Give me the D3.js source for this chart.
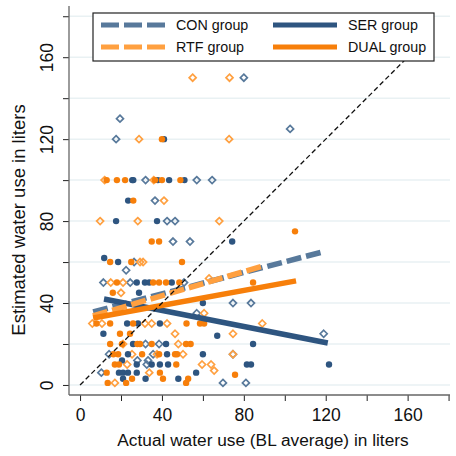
<!DOCTYPE html>
<html><head><meta charset="utf-8">
<script src="https://cdn.jsdelivr.net/npm/d3@7"></script>
<style>html,body{margin:0;padding:0;background:#fff;}svg{display:block;font-family:"Liberation Sans",Arial,sans-serif;}</style>
</head><body><svg id="c" width="456" height="456"></svg>
<script>
// ---- data ----
const groups = ["CON group","RTF group","SER group","DUAL group"];
const xTicks = [0,20,40,60,80,100,120,140,160,180];
const yTicks = [0,20,40,60,80,100,120,140,160,180];
const xLabels = [0,40,80,120,160];
const yLabels = [0,40,80,120,160];

const conPts = [[80,150],[19.5,130],[17.6,120],[102.6,125],[32,100],[57,100],[64.5,100],[36.6,90],[42.5,80],[46.4,80],[45.4,70],[53.7,70],[26.4,60],[22.5,56],[11.4,50],[24.5,50],[50.8,50],[74.7,40],[83.5,40],[57,35],[119,25],[32,20],[38.6,20],[14.2,15],[35.7,15],[74.7,15],[33.2,12],[28,12],[32.6,10],[10.4,6],[69.8,1],[81,1]];
const rtfPts = [[55,150],[73,150],[28.8,120],[72.8,120],[12,100],[36,100],[41,90],[9.8,80],[28.2,80],[68,80],[29.3,60],[30.8,60],[15,50],[21,50],[63,52],[20,45],[60.6,35],[6,30],[10.7,30],[31.7,30],[35,30],[42.5,30],[89,30],[46.4,25],[74.7,25],[21,20],[48,20],[25.4,15],[37.6,15],[50.3,15],[74.7,15],[23,10],[59.6,10],[64,10],[65.5,7],[33.8,6],[17,1]];
const serPts = [[41,120],[25.5,100],[26,100],[38,100],[43.5,100],[51,100],[23.5,90],[17.6,80],[37.6,80],[74.3,70],[11.8,62],[18.6,60],[27.7,50],[31.7,50],[33.8,50],[44.8,50],[28.8,45],[60,40],[23,30],[28.3,30],[39,30],[11.4,25],[67,24],[25.9,20],[42,20],[84.5,20],[23.4,15],[42.5,15],[60,15],[20.5,12],[27.7,10],[35,10],[39,10],[43,10],[81.5,10],[83.5,10],[121.6,10],[19,6],[21,6],[23.4,6],[27.7,6],[56.7,6],[21,3],[32,3],[48,3]];
const dualPts = [[40,120],[13,100],[18,100],[22,100],[36.6,100],[40,100],[49,100],[26,90],[35,70],[38.6,70],[105,75],[14.7,60],[25,60],[49.8,60],[18,50],[35.7,50],[38.6,50],[42,50],[48.5,50],[84.5,50],[16,45],[8,30],[14.7,30],[25.9,30],[52,30],[58.6,30],[60.6,30],[19.5,25],[24.4,25],[14.7,20],[20.5,20],[28,20],[29.3,20],[35,20],[51.8,20],[54,20],[16.3,15],[18.6,15],[30.3,15],[38.6,15],[46.4,15],[47.4,15],[17,10],[19,10],[47,10],[13,6],[39,6],[75.7,5],[25.4,3],[40.5,3],[52.8,3],[13.5,1],[22.5,1],[51.8,1]];

const conFit = [[6.4,35.7],[118.7,65]];
const rtfFit = [[6.3,33.7],[89.4,58.1]];
const serFit = [[11.7,42],[121,20.5]];
const dualFit = [[6.4,32.7],[105.5,50.8]];
const diagonal = [[0,0],[170,170]];

// ---- styles ----
const col = {con:"#58799b", rtf:"#ffa040", ser:"#2e5580", dual:"#f77f0a"};

const svg = d3.select("#c");
const L=69, R=450, T=6, B=395;
const x = d3.scaleLinear().domain([-5.4,180.7]).range([L,R]);
const y = d3.scaleLinear().domain([-4.9,185]).range([B,T]);

// gridlines
svg.append("g").selectAll("line").data(yTicks).join("line")
  .attr("x1",L).attr("x2",R).attr("y1",d=>y(d)).attr("y2",d=>y(d))
  .attr("stroke","#e9f1f3").attr("stroke-width",1.5);

// points
function diamond(g, pts, c){
  g.selectAll(null).data(pts).join("path")
   .attr("d","M0,-3.5L3.5,0L0,3.5L-3.5,0Z")
   .attr("transform",d=>`translate(${x(d[0])},${y(d[1])})`)
   .attr("fill","none").attr("stroke",c).attr("stroke-width",1.7);
}
function dots(g, pts, c){
  g.selectAll(null).data(pts).join("circle")
   .attr("cx",d=>x(d[0])).attr("cy",d=>y(d[1])).attr("r",3.2)
   .attr("fill",c);
}
const pg = svg.append("g");
diamond(pg, conPts, col.con);
diamond(pg, rtfPts, col.rtf);
dots(pg, serPts, col.ser);
dots(pg, dualPts, col.dual);

// fit lines
const line = d3.line().x(d=>x(d[0])).y(d=>y(d[1]));
svg.append("path").attr("d",line(conFit)).attr("stroke",col.con).attr("stroke-width",5.5).attr("stroke-dasharray","15,5").attr("fill","none");
svg.append("path").attr("d",line(serFit)).attr("stroke",col.ser).attr("stroke-width",5.5).attr("fill","none");
svg.append("path").attr("d",line(rtfFit)).attr("stroke",col.rtf).attr("stroke-width",5.5).attr("stroke-dasharray","15,5").attr("fill","none");
svg.append("path").attr("d",line(dualFit)).attr("stroke",col.dual).attr("stroke-width",5.5).attr("fill","none");
svg.append("path").attr("d",line(diagonal)).attr("stroke","#111").attr("stroke-width",1.3).attr("stroke-dasharray","5,3").attr("fill","none");

// axes
const ax = svg.append("g").attr("transform",`translate(0,${B})`)
  .call(d3.axisBottom(x).tickValues(xTicks).tickSize(6).tickFormat(d=>xLabels.includes(d)?d:""));
const ay = svg.append("g").attr("transform",`translate(${L},0)`)
  .call(d3.axisLeft(y).tickValues(yTicks).tickSize(6).tickFormat(d=>yLabels.includes(d)?d:""));
[ax,ay].forEach(a=>{
  a.select(".domain").remove();
  a.selectAll(".tick line").attr("stroke","#222").attr("stroke-width",1);
  a.selectAll("text").attr("font-size",17.5).attr("fill","#111").attr("font-family","Liberation Sans, Arial, sans-serif");
});
ax.selectAll("text").attr("dy",null).attr("y",26);
ay.selectAll("text").attr("x",null).attr("dy",null)
  .attr("transform","translate(-22,0) rotate(-90)").attr("text-anchor","middle").attr("y",0).attr("dominant-baseline","central");
svg.append("line").attr("x1",L).attr("x2",L).attr("y1",T).attr("y2",B).attr("stroke","#666").attr("stroke-width",1.3);
svg.append("line").attr("x1",L).attr("x2",R).attr("y1",B).attr("y2",B).attr("stroke","#666").attr("stroke-width",1.3);

// axis titles
svg.append("text").attr("x",263).attr("y",446).attr("text-anchor","middle")
  .attr("font-size",17.3).attr("fill","#111").text("Actual water use (BL average) in liters");
svg.append("text").attr("transform","translate(25,220) rotate(-90)").attr("text-anchor","middle")
  .attr("font-size",18.5).attr("fill","#111").text("Estimated water use in liters");

// legend
const lg = svg.append("g");
lg.append("rect").attr("x",93).attr("y",13).attr("width",341).attr("height",48)
  .attr("fill","#fff").attr("stroke","#222").attr("stroke-width",1.2);
const items = [
  {name:groups[0], c:col.con, dash:"18,5", lx:101, ly:25},
  {name:groups[1], c:col.rtf, dash:"18,5", lx:101, ly:47},
  {name:groups[2], c:col.ser, dash:null, lx:273, ly:25},
  {name:groups[3], c:col.dual, dash:null, lx:273, ly:47}
];
items.forEach(it=>{
  lg.append("line").attr("x1",it.lx).attr("x2",it.lx+64).attr("y1",it.ly).attr("y2",it.ly)
    .attr("stroke",it.c).attr("stroke-width",5).attr("stroke-dasharray",it.dash);
  lg.append("text").attr("x",it.lx+75).attr("y",it.ly).attr("dominant-baseline","central")
    .attr("font-size",14.3).attr("fill","#111").text(it.name);
});
</script></body></html>
